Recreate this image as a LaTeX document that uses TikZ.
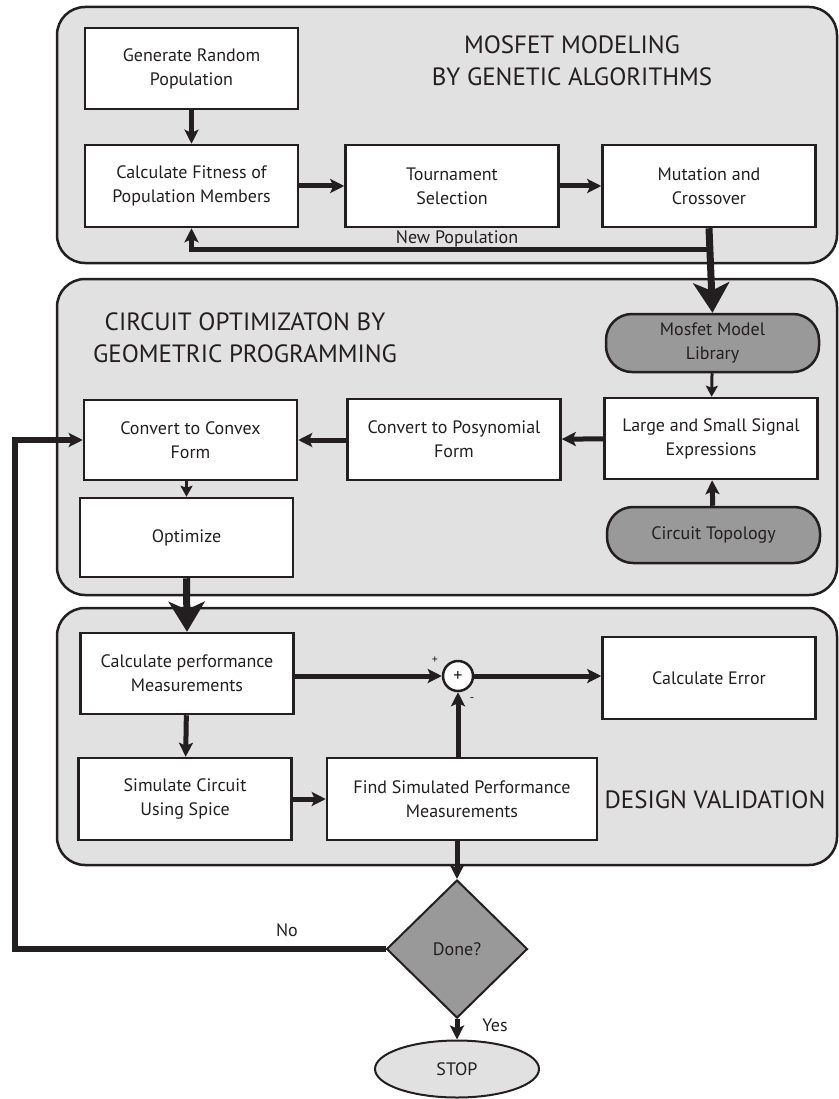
\documentclass[tikz,border=0pt]{standalone}
\usepackage{fontspec}
\setmainfont{PT Sans}
\usepackage{xcolor}
\usepackage{tikz}
\usetikzlibrary{arrows.meta,positioning,calc,shapes.geometric}
\definecolor{panelgray}{RGB}{225,225,225}
\definecolor{darkfill}{RGB}{153,153,153}
\definecolor{inkblack}{RGB}{35,31,32}

\begin{document}
\begin{tikzpicture}[x=1pt, y=-1pt, inkblack, font=\fontsize{18}{24}\selectfont,
  panel/.style={draw, line width=2.5pt, fill=panelgray, rounded corners=28pt, minimum width=780pt, inner sep=0pt},
  block/.style={draw, line width=2.5pt, fill=white, minimum width=213pt, minimum height=81pt, align=center, inner sep=2pt},
  pill/.style={draw, line width=2.5pt, fill=darkfill, rounded corners=26pt, minimum width=213pt, align=center, inner sep=2pt},
  heading/.style={font=\fontsize{25}{32}\selectfont, align=center},
  flow/.style={line width=5pt, -{Stealth[length=14pt, width=14pt, inset=3pt]}},
  thinflow/.style={line width=3pt, -{Stealth[length=11pt, width=12pt, inset=2pt]}},
  bigflow/.style={line width=7pt, -{Stealth[length=30pt, width=36pt, inset=8pt]}}]
\useasboundingbox (0,0) rectangle (838,1099);

\node[panel, minimum height=256pt] (gapanel) at (447,135) {};
\node[panel, minimum height=316pt] (gppanel) at (447,437) {};
\node[panel, minimum height=257pt] (dvpanel) at (447,736.5) {};

\node[heading] (gatitle) at (572,61) {MOSFET MODELING\\BY GENETIC ALGORITHMS};
\node[block] (gen) at (191.5,68.5) {Generate Random\\Population};
\node[block, minimum height=82pt] (fitness) at (191.5,186) {Calculate Fitness of\\Population Members};
\node[block, minimum height=82pt] (tour) at (452,186) {Tournament\\Selection};
\node[block, minimum height=82pt] (mutate) at (709,186) {Mutation and\\Crossover};
\node (newpop) at (457,239) {New Population};
\coordinate (split) at (709,249);

\node[heading] (gptitle) at (245,337.5) {CIRCUIT OPTIMIZATON BY\\GEOMETRIC PROGRAMMING};
\node[pill, minimum height=58pt] (library) at (712.5,343) {Mosfet Model\\Library};
\node[block] (signal) at (711,438.5) {Large and Small Signal\\Expressions};
\node[pill, minimum height=56pt] (topology) at (713.5,535) {Circuit Topology};
\node[block] (posy) at (454,439.5) {Convert to Posynomial\\Form};
\node[block, minimum height=80pt] (convex) at (190.5,440) {Convert to Convex\\Form};
\node[block, minimum height=79pt] (optimize) at (186.5,537.5) {Optimize};

\node[block] (perf) at (187,673.5) {Calculate performance\\Measurements};
\node[block, minimum height=82pt] (simulate) at (185,799) {Simulate Circuit\\Using Spice};
\node[block, minimum width=270pt, minimum height=82pt] (findsim) at (462,799) {Find Simulated Performance\\Measurements};
\node[circle, draw, line width=2.5pt, fill=white, minimum size=30pt, inner sep=0pt] (sum) at (458,676) {+};
\node[font=\fontsize{12}{14}\selectfont] (plus) at (435,660) {+};
\node[font=\fontsize{12}{14}\selectfont] (minus) at (472,700) {-};
\node[block, minimum height=82pt] (error) at (709,678) {Calculate Error};
\node[heading] (dvtitle) at (715,800) {DESIGN VALIDATION};

\node[diamond, draw, line width=2pt, fill=darkfill, minimum width=141pt, minimum height=138pt, inner sep=0pt] (done) at (457,949) {Done?};
\node[ellipse, draw, line width=2pt, fill=panelgray, minimum width=164pt, minimum height=57pt] (stop) at (457,1069) {STOP};
\node (nolabel) at (287,930) {No};
\node (yeslabel) at (495,1025) {Yes};
\coordinate (loopcorner) at (15,949);

\draw[flow] (gen) -- (fitness);
\draw[flow] (fitness) -- (tour);
\draw[flow] (tour) -- (mutate);
\draw[flow] (split) -| (fitness.south);
\draw[bigflow] (mutate.south) -- (library.north);
\draw[thinflow] (library) -- (signal);
\draw[flow] (topology) -- (signal);
\draw[flow] (signal) -- (posy);
\draw[flow] (posy.west |- convex.east) -- (convex.east);
\draw[thinflow] (convex.south -| optimize) -- (optimize);
\draw[bigflow] (optimize.south) -- (perf.north);
\draw[flow] (perf) -- (simulate);
\draw[flow] (simulate.east |- findsim.west) -- (findsim.west);
\draw[flow] (perf.east |- sum.west) -- (sum.west);
\draw[flow] (findsim.north -| sum) -- (sum.south);
\draw[flow] (sum.east) -- (sum -| error.west);
\draw[flow] (findsim.south -| done) -- (done.north);
\draw[flow] (done.south) -- (stop.north);
\draw[line width=5.5pt, -{Stealth[length=14pt, width=14pt, inset=3pt]}] (done.west) -- (loopcorner) |- (convex.west);
\end{tikzpicture}
\end{document}
